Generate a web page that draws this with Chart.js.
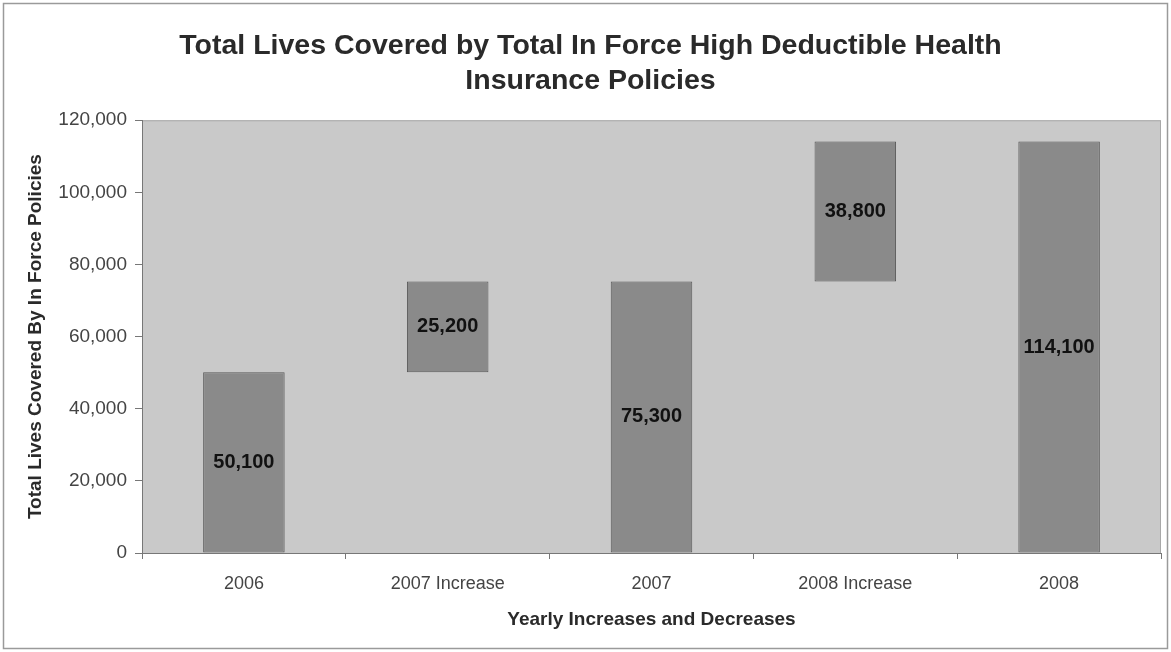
<!DOCTYPE html>
<html>
<head>
<meta charset="utf-8">
<script src="https://cdn.jsdelivr.net/npm/chart.js@4/dist/chart.umd.min.js"></script>
<style>
html,body{margin:0;padding:0;background:#fff;}
#wrap{width:1171px;height:652px;position:relative;}
</style>
</head>
<body>
<div id="wrap"><canvas id="c" width="1171" height="652"></canvas></div>
<script>
const categories = ["2006", "2007 Increase", "2007", "2008 Increase", "2008"];
const barStarts = [0, 50100, 0, 75300, 0];
const barEnds = [50100, 75300, 75300, 114100, 114100];
const barLabels = ["50,100", "25,200", "75,300", "38,800", "114,100"];
const yTicks = [0, 20000, 40000, 60000, 80000, 100000, 120000];

const floating = categories.map((c, i) => [barStarts[i], barEnds[i]]);
const FONT = '"Liberation Sans", Arial, sans-serif';

const bgPlugin = {
  id: 'bgPlugin',
  beforeDraw(chart) {
    const ctx = chart.ctx, a = chart.chartArea;
    ctx.save();
    ctx.fillStyle = '#ffffff';
    ctx.fillRect(0, 0, chart.width, chart.height);
    ctx.strokeStyle = '#9a9a9a';
    ctx.lineWidth = 1.5;
    ctx.strokeRect(3.5, 3.5, chart.width - 7, chart.height - 7);
    ctx.fillStyle = '#c9c9c9';
    ctx.fillRect(a.left, a.top, a.right - a.left, a.bottom - a.top);
    ctx.strokeStyle = '#a8a8a8';
    ctx.lineWidth = 1;
    ctx.strokeRect(a.left + 0.5, a.top + 0.5, a.right - a.left - 1, a.bottom - a.top);
    ctx.restore();
  },
  afterDatasetsDraw(chart) {
    const ctx = chart.ctx;
    const meta = chart.getDatasetMeta(0);
    ctx.save();
    ctx.fillStyle = '#111';
    ctx.font = 'bold 20px ' + FONT;
    ctx.textAlign = 'center';
    ctx.textBaseline = 'middle';
    meta.data.forEach((bar, i) => {
      const p = bar.getProps(['x', 'y', 'base'], true);
      ctx.fillText(barLabels[i], p.x, (p.y + p.base) / 2);
    });
    ctx.restore();
  }
};

new Chart(document.getElementById('c'), {
  type: 'bar',
  data: {
    labels: categories,
    datasets: [{
      data: floating,
      backgroundColor: '#8a8a8a',
      borderColor: '#5a5a5a',
      borderWidth: 1,
      borderSkipped: false,
      barPercentage: 0.8,
      categoryPercentage: 0.5
    }]
  },
  options: {
    responsive: false,
    animation: false,
    devicePixelRatio: 1,
    layout: { padding: { left: 20, right: 10, top: 0, bottom: 17 } },
    plugins: {
      legend: { display: false },
      tooltip: { enabled: false },
      title: {
        display: true,
        text: ["Total Lives Covered by Total In Force High Deductible Health", "Insurance Policies"],
        color: '#2a2a2a',
        font: { family: FONT, size: 28.5, weight: 'bold', lineHeight: 1.25 },
        padding: { top: 28, bottom: 21 }
      }
    },
    scales: {
      x: {
        afterFit(axis) { axis.height = 82; },
        grid: { display: true, drawOnChartArea: false, offset: true, color: '#777', tickLength: 6 },
        border: { display: true, color: '#777' },
        ticks: {
          color: '#444',
          font: { family: FONT, size: 18 },
          padding: 14
        },
        title: {
          display: true,
          text: 'Yearly Increases and Decreases',
          color: '#2a2a2a',
          font: { family: FONT, size: 19, weight: 'bold' },
          padding: { top: 4, bottom: 4 }
        }
      },
      y: {
        min: 0,
        max: 120000,
        afterFit(axis) { axis.width = 122; },
        afterBuildTicks(axis) { axis.ticks = yTicks.map(v => ({ value: v })); },
        grid: { display: true, drawOnChartArea: false, color: '#777', tickLength: 7 },
        border: { display: true, color: '#777' },
        ticks: {
          color: '#444',
          font: { family: FONT, size: 19 },
          padding: 8,
          callback: v => v.toLocaleString('en-US')
        },
        title: {
          display: true,
          text: 'Total Lives Covered By In Force Policies',
          color: '#2a2a2a',
          font: { family: FONT, size: 19, weight: 'bold' },
          padding: { top: 4, bottom: 4 }
        }
      }
    }
  },
  plugins: [bgPlugin]
});
</script>
</body>
</html>
